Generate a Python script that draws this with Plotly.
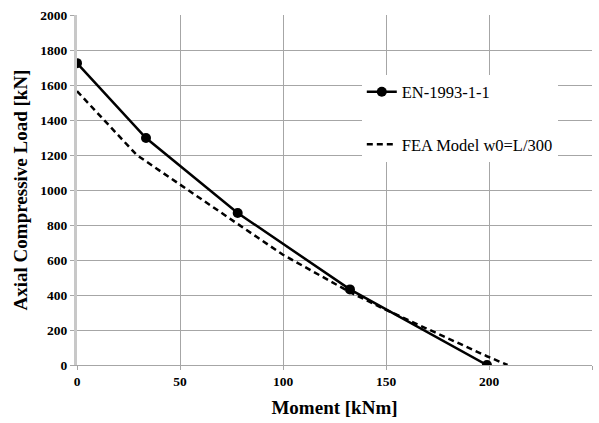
import plotly.graph_objects as go

# EN-1993-1-1 interaction curve
en_moment = [0, 33.5, 78, 132.5, 199]
en_load = [1725, 1297, 869, 432, 0]

# FEA model w0=L/300
fea_moment = [0, 29, 78, 100, 133, 150, 199, 209]
fea_load = [1565, 1200, 806, 630, 413, 315, 50, 0]

x_ticks = [0, 50, 100, 150, 200, 250]
y_ticks = [0, 200, 400, 600, 800, 1000, 1200, 1400, 1600, 1800, 2000]

serif = "Liberation Serif"

fig = go.Figure()
fig.add_trace(go.Scatter(
    x=en_moment, y=en_load, mode="lines+markers", name="EN-1993-1-1",
    line=dict(color="black", width=2.5),
    marker=dict(color="black", size=10),
    legendgroup="a",
))
fig.add_trace(go.Scatter(
    x=fea_moment, y=fea_load, mode="lines", name="FEA Model w0=L/300",
    line=dict(color="black", width=2.5, dash="6px,4px"),
    legendgroup="b",
))

fig.update_layout(
    width=599, height=423,
    margin=dict(l=77, r=7, t=15, b=58),
    paper_bgcolor="white", plot_bgcolor="white",
    font=dict(family=serif, color="black"),
    showlegend=True,
    legend=dict(
        x=0.553, y=0.83, xanchor="left", yanchor="top",
        bgcolor="white", borderwidth=0,
        font=dict(family=serif, size=16.5, color="black"),
        tracegroupgap=28, itemwidth=30,
    ),
    xaxis=dict(
        range=[0, 250], tickvals=x_ticks, ticktext=["<b>%d</b>" % v for v in x_ticks],
        showgrid=True, gridcolor="#a6a6a6", gridwidth=1,
        zeroline=False, showline=True, linecolor="#a6a6a6", linewidth=1,
        ticks="outside", ticklen=4, tickcolor="#a6a6a6",
        tickfont=dict(family=serif, size=13.5, color="black"),
        title=dict(text="<b>Moment [kNm]</b>", font=dict(family=serif, size=19, color="black"), standoff=12),
    ),
    yaxis=dict(
        range=[0, 2000], tickvals=y_ticks, ticktext=["<b>%d</b>" % v for v in y_ticks],
        showgrid=True, gridcolor="#a6a6a6", gridwidth=1,
        zeroline=False, showline=True, linecolor="#c8c8c8", linewidth=3,
        ticks="outside", ticklen=4, tickcolor="#a6a6a6",
        tickfont=dict(family=serif, size=13.5, color="black"),
        title=dict(text="<b>Axial Compressive Load [kN]</b>", font=dict(family=serif, size=19, color="black"), standoff=8),
    ),
)

fig.write_html("out.html")
